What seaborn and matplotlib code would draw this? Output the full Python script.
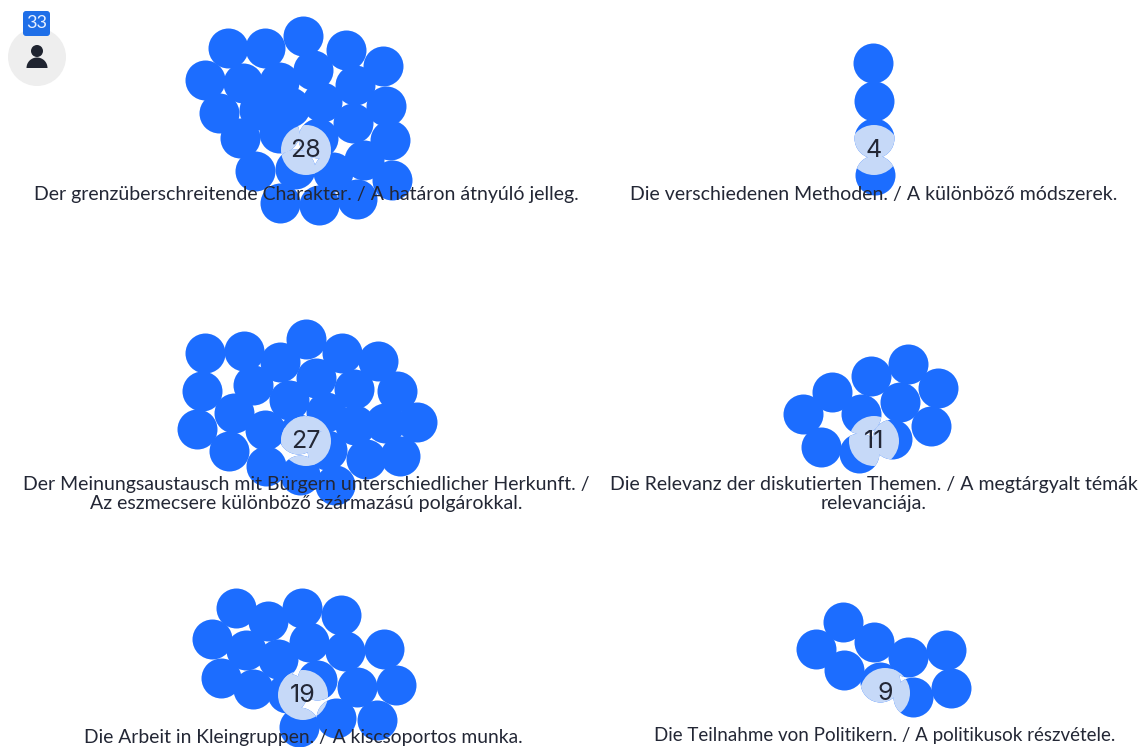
import pandas as pd
import matplotlib
matplotlib.use("Agg")
import matplotlib.pyplot as plt
import seaborn as sns
from matplotlib.patches import Circle, FancyBboxPatch, Wedge

# ---- data: one dot per respondent (pixels) ----
counts = [28, 4, 27, 11, 19, 9]
respondents = 33

labels = [
    "Der grenzüberschreitende Charakter. / A határon átnyúló jelleg.",
    "Die verschiedenen Methoden. / A különböző módszerek.",
    "Der Meinungsaustausch mit Bürgern unterschiedlicher Herkunft. /\nAz eszmecsere különböző származású polgárokkal.",
    "Die Relevanz der diskutierten Themen. / A megtárgyalt témák\nrelevanciája.",
    "Die Arbeit in Kleingruppen. / A kiscsoportos munka.",
    "Die Teilnahme von Politikern. / A politikusok részvétele.",
]

dots1_x = [227.5, 264.5, 303.4, 346, 383, 205.3, 243, 279.3, 312.6, 355, 385.5, 219, 259, 290.4,
           321.9, 353.3, 239.7, 279.3, 318.2, 390.3, 254.5, 294.9, 333, 364.4, 392.2, 280.4, 318.9, 357]
dots1_y = [47.7, 48.3, 36, 50, 66, 80, 83.3, 82.3, 70, 85, 106, 113.3, 110, 106.7,
           101.7, 122.7, 138.3, 133.3, 138.3, 140, 171, 169, 171.7, 160, 180, 203.3, 205, 199]

dots2_x = [873, 873.6, 874.3, 875]
dots2_y = [62.7, 101, 138.3, 175]

dots3_x = [205.3, 244.2, 280.4, 306.3, 342.2, 378.1, 201.6, 253.4, 316.3, 354, 396.6, 233.8, 288.6, 325.6,
           196.8, 264.5, 355.2, 384.8, 417, 229.4, 327.4, 365.5, 400.3, 266.4, 299.7, 334.8, 298]
dots3_y = [353.3, 350.7, 361.7, 339, 353.3, 360.7, 391, 385, 378.3, 389.3, 391, 413.3, 400, 411.7,
           429.3, 430, 425, 423.3, 421.7, 451, 450, 459.3, 456, 466, 475, 485, 434]

dots4_x = [908, 870.9, 938.2, 831.9, 899.5, 802.6, 861.2, 930.6, 891.6, 820.8, 858.8]
dots4_y = [364, 376, 388.3, 391.7, 401.7, 414.3, 414, 426, 439.3, 446.7, 453.3]

dots5_x = [235.7, 268.3, 302.3, 340.7, 211.7, 245.7, 309.3, 345, 384, 278.3,
           221, 253.3, 317.3, 356.7, 396, 286.7, 336, 376.7, 299.3]
dots5_y = [608.3, 621, 607.7, 615, 639, 650, 642.3, 651, 649, 659,
           677.7, 689.3, 680, 686.7, 685, 693.3, 717.7, 720, 726.7]

dots6_x = [843.3, 815.7, 874, 907.7, 945.7, 844.3, 880, 913.3, 950.7]
dots6_y = [622.3, 649.3, 642.3, 656.7, 650, 670, 682.3, 696.7, 688.3]

all_x = [dots1_x, dots2_x, dots3_x, dots4_x, dots5_x, dots6_x]
all_y = [dots1_y, dots2_y, dots3_y, dots4_y, dots5_y, dots6_y]

# ---- layout ----
disc_centers = [(306, 150), (874, 150), (306, 441), (874, 441), (303, 695), (885, 693)]
label_pos = [(306, 194.5), (874, 194.5), (306, 494), (874, 494), (303, 737), (885, 736)]
label_sizes = [14.05, 14.05, 14.05, 14.05, 13.9, 13.5]

BLUE = "#1c6dff"
LIGHT = "#c6d9f8"
INK = "#232735"
DOT_S = (40 * 72 / 100) ** 2
DISC_R = 25

sns.set_theme(style="white")
plt.rcParams["font.family"] = ["Lato", "DejaVu Sans"]

fig, ax = plt.subplots(figsize=(11.41, 7.47), dpi=100)
ax.set_position([0, 0, 1, 1])
ax.set_xlim(0, 1141)
ax.set_ylim(747, 0)
ax.axis("off")

for i in range(len(counts)):
    df = pd.DataFrame({"x": all_x[i], "y": all_y[i]})
    sns.scatterplot(data=df, x="x", y="y", s=DOT_S, color=BLUE, linewidth=0, ax=ax, legend=False, zorder=2)

    # the count disc only recolours the dots underneath it, gaps stay white
    sns.scatterplot(data=df, x="x", y="y", s=DOT_S, color=LIGHT, linewidth=0, ax=ax, legend=False, zorder=3)
    clip = Circle(disc_centers[i], DISC_R, transform=ax.transData)
    ax.collections[-1].set_clip_path(clip)

    ax.text(disc_centers[i][0], disc_centers[i][1] + 0.5, str(counts[i]), ha="center", va="center",
            fontsize=18, color=INK, family=["Inter", "DejaVu Sans"], zorder=5)
    ax.text(label_pos[i][0], label_pos[i][1], labels[i], ha="center", va="center", fontsize=label_sizes[i],
            color=INK, linespacing=1.15, zorder=5)

ax.set_xlabel("")
ax.set_ylabel("")

# respondent badge, top left
ax.add_patch(Circle((37, 57), 29, color="#eeeeee", lw=0, zorder=1))
ax.add_patch(FancyBboxPatch((23, 11), 27, 25, boxstyle="round,pad=0,rounding_size=3", color="#1f6fe8", lw=0, zorder=4))
ax.text(36.5, 23.5, str(respondents), ha="center", va="center", fontsize=13, color="#e8f0ff", zorder=5)
ax.add_patch(Circle((37, 51), 6, color="#1f2430", lw=0, zorder=4))
ax.add_patch(Wedge((37, 68), 10.5, 180, 360, color="#1f2430", lw=0, zorder=4))

fig.savefig("out.png", dpi=100)
